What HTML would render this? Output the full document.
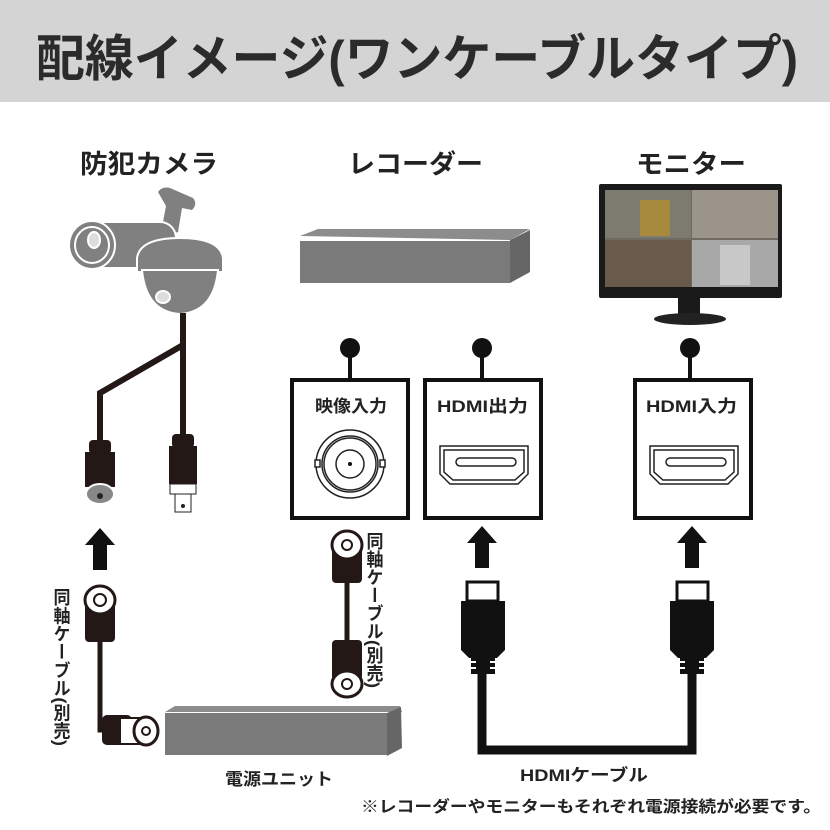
<!DOCTYPE html>
<html><head><meta charset="utf-8"><style>
body{margin:0;background:#fff}
svg{display:block}
text{font-family:"Liberation Sans","Noto Sans CJK JP",sans-serif;font-weight:bold;fill:#222}
</style></head><body>
<svg width="830" height="830" viewBox="0 0 830 830" xmlns="http://www.w3.org/2000/svg">
<rect x="0" y="0" width="830" height="102" fill="#d4d4d4"/>
<text x="36" y="76" font-size="50" style="fill:#2b2b2b" textLength="762" lengthAdjust="spacingAndGlyphs">配線イメージ(ワンケーブルタイプ)</text>

<text x="80" y="173" font-size="26" textLength="138" lengthAdjust="spacingAndGlyphs">防犯カメラ</text>
<text x="348" y="173" font-size="26" textLength="135" lengthAdjust="spacingAndGlyphs">レコーダー</text>
<text x="636" y="173" font-size="26" textLength="110" lengthAdjust="spacingAndGlyphs">モニター</text>

<!-- cameras -->
<g fill="#808080" stroke="#fff" stroke-width="2">
<path d="M158 192 Q162 186 170 188 L193 198 Q198 204 192 210 L182 208 L178 232 L160 238 L166 206 Z" stroke="none"/>
<rect x="70" y="222" width="106" height="46" rx="16"/>
<ellipse cx="92" cy="245" rx="23" ry="24"/>
<ellipse cx="92" cy="245" rx="17" ry="18"/>
<ellipse cx="94" cy="240" rx="6" ry="8" fill="#ddd"/>
<path d="M137 272 L137 258 Q140 238 180 238 Q220 238 223 258 L223 272 Z"/>
<path d="M142 270 Q146 312 180 314 Q214 312 218 270 Z"/>
<ellipse cx="163" cy="297" rx="7" ry="6" fill="#ddd"/>
</g>
<!-- camera cables -->
<g stroke="#231815" stroke-width="6" fill="none">
<path d="M183 313 V440"/>
<path d="M183 345 L100 393 V440"/>
</g>
<g fill="#231815">
<rect x="89" y="440" width="22" height="14" rx="4"/>
<rect x="85" y="452" width="30" height="35"/>
<rect x="172" y="434" width="22" height="14" rx="4"/>
<rect x="169" y="446" width="28" height="38"/>
</g>
<ellipse cx="100" cy="494" rx="14" ry="10" fill="#888" stroke="#fff" stroke-width="2"/>
<circle cx="100" cy="496" r="3" fill="#222"/>
<rect x="170" y="484" width="26" height="10" fill="#fff" stroke="#222"/>
<rect x="175" y="494" width="16" height="18" fill="#fff" stroke="#222"/>
<circle cx="183" cy="506" r="2" fill="#222"/>

<!-- arrows -->
<g fill="#111">
<path d="M100 528 L115 545 L107 545 L107 570 L93 570 L93 545 L85 545 Z"/>
<path d="M482 526 L497 543 L489 543 L489 568 L475 568 L475 543 L467 543 Z"/>
<path d="M692 526 L707 543 L699 543 L699 568 L685 568 L685 543 L677 543 Z"/>
</g>

<!-- left coax cable -->
<text font-size="17" x="60" y="588" style="writing-mode:vertical-rl" textLength="158" lengthAdjust="spacingAndGlyphs">同軸ケーブル(別売)</text>
<path d="M100 640 V730 H120" stroke="#231815" stroke-width="5" fill="none"/>
<rect x="85" y="600" width="30" height="42" rx="4" fill="#231815"/>
<ellipse cx="100" cy="600" rx="15" ry="14" fill="#fff" stroke="#231815" stroke-width="3"/>
<circle cx="100" cy="600" r="6" fill="none" stroke="#231815" stroke-width="2"/>
<rect x="102" y="715" width="30" height="30" rx="5" fill="#231815"/>
<rect x="120" y="718" width="20" height="26" fill="#fff" stroke="#231815" stroke-width="2"/>
<ellipse cx="146" cy="731" rx="12" ry="14" fill="#fff" stroke="#231815" stroke-width="3"/>
<circle cx="146" cy="731" r="4" fill="none" stroke="#231815" stroke-width="2"/>

<!-- right coax cable -->
<path d="M347 570 V660" stroke="#231815" stroke-width="5"/>
<rect x="332" y="545" width="30" height="38" rx="4" fill="#231815"/>
<ellipse cx="347" cy="545" rx="15" ry="14" fill="#fff" stroke="#231815" stroke-width="3"/>
<circle cx="347" cy="545" r="5" fill="none" stroke="#231815" stroke-width="2"/>
<rect x="332" y="640" width="30" height="40" rx="4" fill="#231815"/>
<ellipse cx="347" cy="684" rx="15" ry="13" fill="#fff" stroke="#231815" stroke-width="3"/>
<circle cx="347" cy="684" r="5" fill="none" stroke="#231815" stroke-width="2"/>
<text font-size="17" x="373" y="532" style="writing-mode:vertical-rl" textLength="156" lengthAdjust="spacingAndGlyphs">同軸ケーブル(別売)</text>

<!-- power unit -->
<path d="M165 712 L175 706 L400 706 L402 712 Z" fill="#8c8c8c"/>
<rect x="165" y="713" width="222" height="42" fill="#7a7a7a"/>
<path d="M387 713 L401 707 L402 748 L387 756 Z" fill="#666"/>
<text x="225" y="785" font-size="17" textLength="108" lengthAdjust="spacingAndGlyphs">電源ユニット</text>

<!-- recorder -->
<path d="M300 236 L318 229 L530 229 L510 240 Z" fill="#8c8c8c"/>
<rect x="300" y="241" width="210" height="42" fill="#7a7a7a"/>
<path d="M510 240 L530 230 L530 272 L510 283 Z" fill="#666"/>

<!-- monitor -->
<rect x="599" y="184" width="183" height="114" rx="2" fill="#1a1a1a"/>
<rect x="605" y="190" width="173" height="97" fill="#6f6a62"/>
<rect x="605" y="190" width="86" height="48" fill="#7d7a70"/>
<rect x="640" y="200" width="30" height="36" fill="#a88a3c"/>
<rect x="692" y="190" width="86" height="48" fill="#9a948a"/>
<rect x="605" y="240" width="86" height="47" fill="#6a5a4a"/>
<rect x="692" y="240" width="86" height="47" fill="#a8a8a8"/>
<rect x="720" y="245" width="30" height="40" fill="#c8c8c8"/>
<rect x="678" y="297" width="22" height="18" fill="#1a1a1a"/>
<ellipse cx="690" cy="319" rx="36" ry="6" fill="#222"/>

<!-- connectors pins -->
<g fill="#111">
<circle cx="350" cy="348" r="10"/><rect x="348" y="348" width="4" height="32"/>
<circle cx="482" cy="348" r="10"/><rect x="480" y="348" width="4" height="32"/>
<circle cx="690" cy="348" r="10"/><rect x="688" y="348" width="4" height="32"/>
</g>
<g fill="#fff" stroke="#111" stroke-width="4">
<rect x="292" y="380" width="116" height="138"/>
<rect x="425" y="380" width="116" height="138"/>
<rect x="635" y="380" width="116" height="138"/>
</g>
<text x="315" y="412" font-size="17" textLength="72" lengthAdjust="spacingAndGlyphs">映像入力</text>
<text x="437" y="412" font-size="17" textLength="91" lengthAdjust="spacingAndGlyphs">HDMI出力</text>
<text x="646" y="412" font-size="17" textLength="91" lengthAdjust="spacingAndGlyphs">HDMI入力</text>
<!-- BNC -->
<g fill="none" stroke="#222" stroke-width="1.5">
<circle cx="350" cy="464" r="34"/>
<circle cx="350" cy="464" r="28"/>
<circle cx="350" cy="464" r="26"/>
<circle cx="350" cy="464" r="14"/>
<rect x="315" y="460" width="5" height="7" fill="#fff"/>
<rect x="380" y="460" width="5" height="7" fill="#fff"/>
</g>
<circle cx="350" cy="464" r="2" fill="#111"/>
<!-- HDMI sockets -->
<g fill="none" stroke="#222" stroke-width="1.5">
<path d="M440 446 H528 V474 L518 484 H450 L440 474 Z"/>
<path d="M444 450 H524 V472 L515 480 H453 L444 472 Z"/>
<rect x="456" y="458" width="60" height="8" rx="4"/>
<path d="M650 446 H738 V474 L728 484 H660 L650 474 Z"/>
<path d="M654 450 H734 V472 L725 480 H663 L654 472 Z"/>
<rect x="666" y="458" width="60" height="8" rx="4"/>
</g>

<!-- HDMI cable -->
<g>
<rect x="467" y="582" width="31" height="19" fill="#fff" stroke="#111" stroke-width="3"/>
<path d="M461 601 H505 V650 L497 658 H469 L461 650 Z" fill="#111"/>
<rect x="471" y="656" width="24" height="18" fill="#111"/>
<g stroke="#fff" stroke-width="2"><line x1="471" y1="662" x2="476" y2="662"/><line x1="490" y1="662" x2="495" y2="662"/><line x1="471" y1="668" x2="476" y2="668"/><line x1="490" y1="668" x2="495" y2="668"/></g>
<rect x="677" y="582" width="31" height="19" fill="#fff" stroke="#111" stroke-width="3"/>
<path d="M670 601 H714 V650 L706 658 H678 L670 650 Z" fill="#111"/>
<rect x="680" y="656" width="24" height="18" fill="#111"/>
<g stroke="#fff" stroke-width="2"><line x1="680" y1="662" x2="685" y2="662"/><line x1="699" y1="662" x2="704" y2="662"/><line x1="680" y1="668" x2="685" y2="668"/><line x1="699" y1="668" x2="704" y2="668"/></g>
<path d="M482 672 V750 H692 V672" fill="none" stroke="#111" stroke-width="9"/>
</g>
<text x="520" y="781" font-size="17" textLength="128" lengthAdjust="spacingAndGlyphs">HDMIケーブル</text>
<text x="361" y="812" font-size="16" textLength="460" lengthAdjust="spacingAndGlyphs">※レコーダーやモニターもそれぞれ電源接続が必要です。</text>
</svg>
</body></html>
